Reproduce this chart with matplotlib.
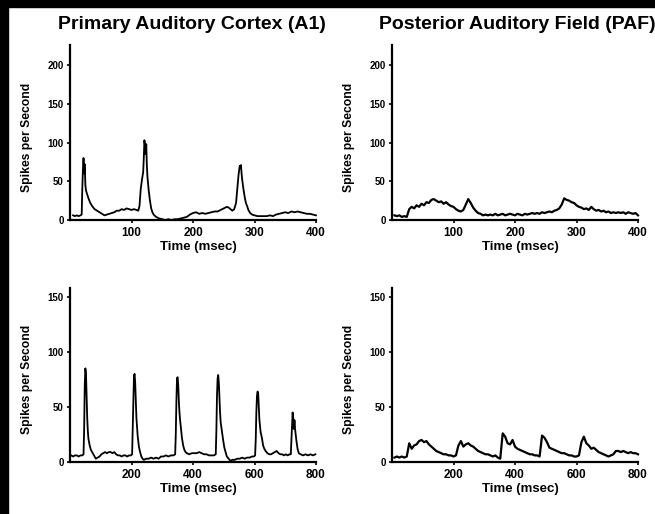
import numpy as np
import matplotlib
matplotlib.use('Agg')
import matplotlib.pyplot as plt
from matplotlib.patches import Rectangle

plt.rcParams['font.family'] = ['Liberation Sans', 'DejaVu Sans']
plt.rcParams['font.weight'] = 'bold'

# ---- A1, 400 ms sweep ----
a1_short_t = [5, 8, 11, 14, 17, 19, 20, 21, 22, 23, 24, 25, 26, 28, 30, 33, 36, 40, 44, 48,
              52, 56, 60, 64, 68, 72, 76, 80, 84, 88, 92, 96, 100, 104, 108, 111, 113, 115,
              117, 119, 120, 121, 122, 123, 124, 125, 126, 128, 130, 132, 134, 136, 140, 145,
              150, 155, 160, 165, 170, 175, 180, 185, 190, 195, 200, 205, 210, 215, 220, 225,
              230, 235, 240, 245, 250, 255, 258, 261, 264, 267, 270, 272, 274, 276, 277, 278,
              279, 280, 282, 284, 286, 288, 290, 293, 296, 300, 305, 310, 315, 320, 325, 330,
              335, 340, 345, 350, 355, 360, 365, 370, 375, 380, 385, 390, 395, 400]
a1_short_rate = [6, 5, 6, 5, 6, 7, 40, 65, 80, 60, 72, 45, 38, 33, 28, 22, 18, 14, 12, 10,
                 8, 6, 7, 8, 9, 10, 12, 12, 14, 13, 15, 14, 13, 14, 13, 12, 18, 40,
                 52, 62, 80, 103, 96, 85, 98, 70, 55, 38, 25, 15, 10, 7, 4, 2,
                 1, 0, 1, 0, 1, 1, 2, 3, 4, 7, 9, 10, 8, 9, 8, 9,
                 10, 11, 11, 13, 15, 17, 16, 14, 12, 14, 22, 40, 58, 70, 68, 71,
                 60, 52, 40, 30, 22, 18, 13, 9, 7, 6, 5, 5, 5, 5, 6, 5,
                 7, 8, 9, 10, 9, 11, 10, 11, 10, 9, 8, 8, 7, 6]

# ---- PAF, 400 ms sweep ----
paf_short_t = list(range(4, 401, 4))
paf_short_rate = [6, 5, 6, 4, 5, 4, 14, 17, 15, 19, 17, 21, 19, 23, 22, 26, 27, 25, 23, 24,
                  21, 23, 20, 18, 17, 14, 12, 11, 13, 20, 27, 22, 16, 12, 9, 8, 6, 7, 6, 7,
                  6, 8, 6, 7, 8, 6, 7, 8, 7, 6, 8, 7, 6, 8, 7, 8, 9, 8, 9, 8,
                  10, 9, 10, 11, 10, 12, 13, 15, 20, 28, 26, 25, 23, 22, 19, 17, 16, 14, 15, 13,
                  17, 14, 12, 13, 11, 12, 10, 11, 9, 10, 9, 10, 9, 10, 8, 10, 9, 8, 9, 6]

# ---- A1, 800 ms sweep ----
a1_long_t = [4, 10, 16, 22, 28, 34, 40, 44, 46, 48, 50, 52, 54, 56, 58, 60, 64, 68, 72, 78,
             84, 90, 96, 102, 108, 114, 120, 126, 132, 138, 144, 150, 156, 162, 168, 174, 180,
             186, 192, 198, 202, 204, 206, 208, 210, 212, 214, 216, 218, 220, 224, 228, 232,
             236, 240, 248, 256, 264, 272, 280, 288, 296, 304, 312, 320, 328, 336, 342, 344,
             346, 348, 350, 352, 354, 356, 358, 360, 364, 368, 372, 376, 380, 388, 396, 404,
             412, 420, 428, 436, 444, 452, 460, 468, 474, 476, 478, 480, 482, 484, 486, 488,
             490, 494, 498, 502, 506, 510, 516, 522, 528, 536, 544, 552, 560, 568, 576, 584,
             592, 598, 602, 604, 606, 608, 610, 612, 614, 616, 620, 624, 628, 632, 636, 642,
             648, 654, 660, 666, 672, 678, 684, 690, 696, 702, 708, 714, 718, 720, 722, 724,
             726, 728, 730, 732, 736, 740, 744, 750, 758, 766, 774, 782, 790, 798]
a1_long_rate = [6, 5, 6, 6, 5, 6, 6, 7, 30, 70, 85, 80, 60, 40, 28, 21, 15, 11, 9, 6,
                3, 4, 5, 7, 8, 9, 8, 9, 9, 8, 9, 7, 6, 6, 5, 6, 6,
                5, 6, 6, 7, 30, 55, 78, 80, 72, 55, 40, 32, 24, 14, 9, 5,
                3, 2, 3, 3, 4, 3, 4, 3, 5, 5, 6, 5, 6, 6, 7, 25,
                55, 76, 77, 70, 55, 45, 38, 33, 22, 15, 11, 9, 8, 7, 8, 8,
                8, 9, 8, 7, 7, 6, 6, 6, 7, 28, 60, 76, 79, 72, 58, 45,
                36, 28, 20, 13, 9, 5, 3, 1, 2, 2, 3, 3, 4, 3, 4, 4,
                5, 5, 6, 20, 45, 60, 64, 62, 50, 38, 27, 22, 15, 12, 10, 8,
                7, 7, 8, 9, 10, 8, 7, 7, 6, 7, 6, 7, 7, 20, 35, 45,
                40, 30, 38, 30, 20, 12, 8, 7, 6, 7, 6, 7, 6, 7]

# ---- PAF, 800 ms sweep ----
paf_long_t = list(range(8, 801, 8))
paf_long_rate = [4, 5, 4, 5, 4, 5, 17, 12, 15, 16, 19, 20, 18, 19, 16, 14, 12, 10, 9, 8,
                 7, 7, 6, 6, 5, 6, 15, 19, 14, 16, 17, 15, 14, 12, 10, 9, 8, 7, 7, 6,
                 5, 6, 4, 3, 26, 23, 17, 16, 20, 14, 12, 11, 10, 9, 8, 7, 7, 6, 6, 5,
                 24, 22, 18, 13, 12, 11, 10, 9, 8, 8, 7, 6, 6, 5, 5, 6, 18, 23, 17, 15,
                 12, 13, 11, 9, 8, 7, 6, 5, 6, 7, 10, 10, 9, 10, 9, 8, 9, 8, 8, 7]

W, H = 655, 514
fig = plt.figure(figsize=(W / 100, H / 100), dpi=100)

# dark strips along the left and top edges
fig.patches.append(Rectangle((0, 0), 8 / W, 1, transform=fig.transFigure,
                             color='black', zorder=-1))
fig.patches.append(Rectangle((0, 1 - 7 / H), 1, 7 / H, transform=fig.transFigure,
                             color='black', zorder=-1))


def px_axes(left, top, right, bottom):
    return fig.add_axes([left / W, 1 - bottom / H, (right - left) / W, (bottom - top) / H])


panels = [
    (px_axes(70, 45, 316, 220), a1_short_t, a1_short_rate, (0, 400), (0, 226),
     [100, 200, 300, 400], [0, 50, 100, 150, 200], 1.3),
    (px_axes(392, 45, 638, 220), paf_short_t, paf_short_rate, (0, 400), (0, 226),
     [100, 200, 300, 400], [0, 50, 100, 150, 200], 1.6),
    (px_axes(70, 288, 316, 462), a1_long_t, a1_long_rate, (0, 800), (0, 158),
     [200, 400, 600, 800], [0, 50, 100, 150], 1.3),
    (px_axes(392, 288, 638, 462), paf_long_t, paf_long_rate, (0, 800), (0, 158),
     [200, 400, 600, 800], [0, 50, 100, 150], 1.6),
]

for ax, t, rate, xlim, ylim, xticks, yticks, lw in panels:
    ax.plot(t, rate, color='black', linewidth=lw, clip_on=False)
    ax.set_xlim(*xlim)
    ax.set_ylim(*ylim)
    ax.set_xticks(xticks)
    ax.set_yticks(yticks)
    for side in ('top', 'right'):
        ax.spines[side].set_visible(False)
    for side in ('left', 'bottom'):
        ax.spines[side].set_linewidth(1.6)
    ax.tick_params(axis='y', length=2.5, width=1.2, pad=2, labelsize=7)
    ax.tick_params(axis='x', length=2.5, width=1.2, pad=2.5, labelsize=8.5)
    for lab in ax.get_xticklabels() + ax.get_yticklabels():
        lab.set_fontweight('bold')
    ax.set_xlabel('Time (msec)', fontsize=9.5, fontweight='bold')
    ax.set_ylabel('Spikes per Second', fontsize=8.7, fontweight='bold')
    ax_h = ax.get_position().height * H
    ax.xaxis.set_label_coords(0.52, -21 / ax_h)
    ax.yaxis.set_label_coords(-0.15, 0.475)

fig.text(192 / W, 1 - 24 / H, 'Primary Auditory Cortex (A1)', ha='center', va='center',
         fontsize=14, fontweight='bold')
fig.text(517 / W, 1 - 24 / H, 'Posterior Auditory Field (PAF)', ha='center', va='center',
         fontsize=14, fontweight='bold')

fig.savefig('out.png', dpi=100, facecolor='white')
